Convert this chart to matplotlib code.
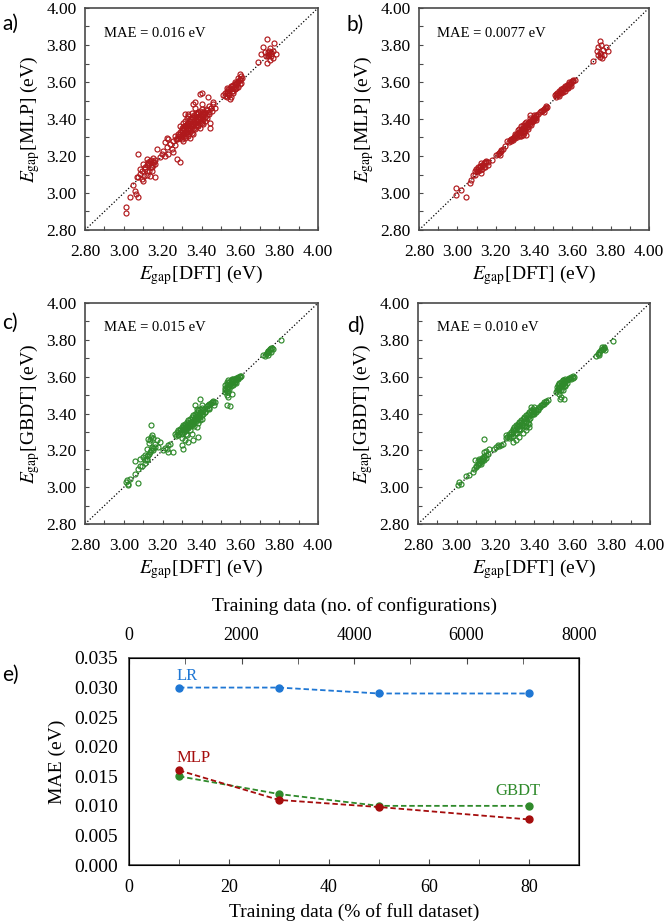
import matplotlib
matplotlib.use('Agg')
import matplotlib.pyplot as plt
from matplotlib.ticker import MultipleLocator, FormatStrFormatter

plt.rcParams['font.family'] = ['Liberation Serif', 'DejaVu Serif']
plt.rcParams['mathtext.fontset'] = 'stix'

# ---- scatter data (DFT gap, predicted gap) ----
pts_a = [(3.011, 2.926), (3.011, 2.892), (3.032, 2.977), (3.074, 2.980), (3.062, 2.995),
         (3.057, 3.013), (3.049, 3.045), (3.074, 3.088), (3.100, 3.066), (3.074, 3.210),
         (3.117, 3.183), (3.134, 3.174), (3.152, 3.188), (3.126, 3.156), (3.100, 3.156),
         (3.109, 3.138), (3.143, 3.142), (3.160, 3.156), (3.092, 3.120), (3.117, 3.117),
         (3.143, 3.120), (3.083, 3.102), (3.105, 3.093), (3.134, 3.093), (3.160, 3.084),
         (3.066, 3.088), (3.126, 3.170), (3.157, 3.170), (3.095, 3.075), (3.083, 3.129),
         (3.11, 3.13), (3.12, 3.15), (3.13, 3.16), (3.14, 3.14), (3.15, 3.17),
         (3.13, 3.12), (3.12, 3.10), (3.14, 3.18), (3.15, 3.15), (3.16, 3.18),
         (3.169, 3.237), (3.195, 3.210), (3.212, 3.201), (3.203, 3.228), (3.220, 3.246),
         (3.212, 3.273), (3.229, 3.291), (3.220, 3.300), (3.237, 3.264), (3.246, 3.237),
         (3.255, 3.219), (3.263, 3.260), (3.272, 3.183), (3.289, 3.165), (3.229, 3.210),
         (3.186, 3.192),
         (3.263, 3.309), (3.277, 3.321), (3.289, 3.332), (3.297, 3.339), (3.306, 3.350),
         (3.315, 3.363), (3.323, 3.372), (3.332, 3.381), (3.340, 3.390), (3.349, 3.399),
         (3.357, 3.408), (3.366, 3.417), (3.375, 3.425), (3.383, 3.434), (3.392, 3.443),
         (3.400, 3.452), (3.409, 3.440), (3.280, 3.300), (3.297, 3.309), (3.306, 3.321),
         (3.315, 3.327), (3.323, 3.332), (3.332, 3.345), (3.340, 3.354), (3.349, 3.363),
         (3.357, 3.372), (3.366, 3.381), (3.375, 3.390), (3.383, 3.399), (3.392, 3.408),
         (3.400, 3.417), (3.409, 3.425), (3.417, 3.434), (3.315, 3.390), (3.323, 3.408),
         (3.306, 3.381), (3.289, 3.363), (3.332, 3.417), (3.349, 3.434), (3.366, 3.461),
         (3.357, 3.479), (3.366, 3.494), (3.332, 3.429), (3.315, 3.425), (3.392, 3.537),
         (3.404, 3.540), (3.435, 3.519), (3.460, 3.494), (3.448, 3.461), (3.469, 3.458),
         (3.455, 3.443), (3.438, 3.425), (3.443, 3.381), (3.445, 3.354), (3.417, 3.390),
         (3.426, 3.408), (3.400, 3.381), (3.383, 3.363), (3.366, 3.345), (3.349, 3.327),
         (3.332, 3.309), (3.315, 3.296), (3.306, 3.282), (3.340, 3.296), (3.357, 3.318),
         (3.392, 3.354), (3.409, 3.372), (3.297, 3.291), (3.272, 3.291), (3.255, 3.282),
         (3.400, 3.479), (3.421, 3.452),
         (3.27, 3.29), (3.28, 3.31), (3.29, 3.30), (3.29, 3.32), (3.30, 3.31),
         (3.30, 3.33), (3.30, 3.35), (3.31, 3.32), (3.31, 3.34), (3.31, 3.36),
         (3.32, 3.31), (3.32, 3.33), (3.32, 3.35), (3.32, 3.37), (3.33, 3.32),
         (3.33, 3.34), (3.33, 3.36), (3.33, 3.38), (3.34, 3.33), (3.34, 3.35),
         (3.34, 3.37), (3.34, 3.40), (3.35, 3.34), (3.35, 3.36), (3.35, 3.38),
         (3.35, 3.41), (3.36, 3.35), (3.36, 3.37), (3.36, 3.39), (3.36, 3.42),
         (3.37, 3.36), (3.37, 3.38), (3.37, 3.40), (3.37, 3.43), (3.38, 3.37),
         (3.38, 3.39), (3.38, 3.41), (3.38, 3.44), (3.39, 3.38), (3.39, 3.40),
         (3.39, 3.42), (3.40, 3.39), (3.40, 3.41), (3.40, 3.43), (3.41, 3.40),
         (3.41, 3.42), (3.42, 3.41), (3.42, 3.44), (3.43, 3.42), (3.43, 3.45),
         (3.44, 3.44), (3.44, 3.47), (3.45, 3.46), (3.46, 3.48),
         (3.512, 3.530), (3.520, 3.542), (3.529, 3.551), (3.538, 3.560), (3.546, 3.569),
         (3.555, 3.576), (3.563, 3.583), (3.572, 3.591), (3.580, 3.596), (3.589, 3.605),
         (3.598, 3.614), (3.603, 3.632), (3.598, 3.645), (3.520, 3.524), (3.538, 3.537),
         (3.555, 3.551), (3.572, 3.560), (3.589, 3.573), (3.546, 3.506), (3.551, 3.519),
         (3.563, 3.542), (3.580, 3.569), (3.606, 3.596), (3.529, 3.566),
         (3.53, 3.54), (3.54, 3.55), (3.55, 3.56), (3.56, 3.57), (3.57, 3.58),
         (3.58, 3.59), (3.59, 3.60), (3.60, 3.61), (3.54, 3.53), (3.56, 3.55),
         (3.58, 3.57), (3.60, 3.59), (3.55, 3.58), (3.57, 3.60), (3.59, 3.62),
         (3.53, 3.52), (3.61, 3.62),
         (3.735, 3.830), (3.773, 3.810), (3.718, 3.790), (3.752, 3.785), (3.726, 3.760),
         (3.760, 3.763), (3.786, 3.750), (3.740, 3.740), (3.709, 3.752), (3.770, 3.730),
         (3.735, 3.704), (3.752, 3.720), (3.692, 3.710), (3.750, 3.750), (3.745, 3.745),
         (3.74, 3.76), (3.76, 3.75), (3.75, 3.77), (3.73, 3.74), (3.77, 3.77), (3.76, 3.74)]

pts_b = [(2.995, 3.027), (2.995, 2.991), (3.021, 3.018), (3.047, 2.980), (3.064, 3.054),
         (3.073, 3.072), (3.082, 3.099), (3.090, 3.117), (3.099, 3.132), (3.108, 3.139),
         (3.117, 3.144), (3.125, 3.108), (3.134, 3.153), (3.143, 3.168), (3.151, 3.175),
         (3.160, 3.153), (3.108, 3.117), (3.125, 3.162), (3.143, 3.139), (3.181, 3.180),
         (3.10, 3.12), (3.11, 3.13), (3.12, 3.14), (3.13, 3.15), (3.14, 3.16),
         (3.15, 3.165), (3.12, 3.125), (3.14, 3.14), (3.16, 3.17), (3.13, 3.13), (3.09, 3.10),
         (3.203, 3.207), (3.216, 3.216), (3.230, 3.225), (3.221, 3.207), (3.261, 3.279),
         (3.21, 3.21), (3.22, 3.22), (3.23, 3.23), (3.24, 3.24), (3.25, 3.255),
         (3.273, 3.286), (3.285, 3.294), (3.296, 3.305), (3.308, 3.315), (3.317, 3.323),
         (3.325, 3.330), (3.334, 3.341), (3.343, 3.348), (3.351, 3.357), (3.360, 3.366),
         (3.369, 3.377), (3.377, 3.384), (3.386, 3.391), (3.395, 3.400), (3.403, 3.405),
         (3.412, 3.414), (3.334, 3.324), (3.351, 3.337), (3.369, 3.355), (3.386, 3.369),
         (3.325, 3.306), (3.343, 3.315), (3.317, 3.342), (3.334, 3.360), (3.351, 3.378),
         (3.377, 3.420), (3.395, 3.387), (3.412, 3.396), (3.360, 3.312),
         (3.27, 3.275), (3.28, 3.29), (3.29, 3.30), (3.30, 3.31), (3.31, 3.32),
         (3.32, 3.33), (3.33, 3.34), (3.34, 3.35), (3.35, 3.36), (3.36, 3.37),
         (3.37, 3.38), (3.38, 3.39), (3.39, 3.40), (3.40, 3.41), (3.41, 3.42),
         (3.28, 3.28), (3.29, 3.285), (3.30, 3.295), (3.31, 3.305), (3.32, 3.315),
         (3.33, 3.325), (3.34, 3.33), (3.35, 3.34), (3.36, 3.35), (3.37, 3.36),
         (3.38, 3.375), (3.39, 3.385), (3.40, 3.395), (3.41, 3.405), (3.30, 3.32),
         (3.32, 3.345), (3.34, 3.365), (3.36, 3.385), (3.38, 3.405), (3.40, 3.42),
         (3.33, 3.31), (3.35, 3.325), (3.37, 3.345),
         (3.421, 3.427), (3.435, 3.441), (3.447, 3.450), (3.459, 3.459), (3.470, 3.467),
         (3.452, 3.438), (3.43, 3.44), (3.44, 3.445), (3.45, 3.455), (3.46, 3.46), (3.465, 3.47),
         (3.511, 3.528), (3.522, 3.539), (3.532, 3.550), (3.543, 3.559), (3.553, 3.568),
         (3.563, 3.575), (3.574, 3.582), (3.584, 3.589), (3.595, 3.596), (3.605, 3.604),
         (3.612, 3.611), (3.522, 3.528), (3.543, 3.541), (3.560, 3.553), (3.577, 3.568),
         (3.595, 3.580), (3.516, 3.535),
         (3.515, 3.52), (3.525, 3.53), (3.535, 3.545), (3.545, 3.55), (3.555, 3.56),
         (3.565, 3.57), (3.575, 3.58), (3.585, 3.59), (3.595, 3.60), (3.605, 3.61),
         (3.53, 3.525), (3.55, 3.545), (3.57, 3.565), (3.59, 3.585), (3.54, 3.56),
         (3.56, 3.58), (3.58, 3.60), (3.60, 3.605),
         (3.708, 3.715), (3.743, 3.823), (3.734, 3.787), (3.748, 3.802), (3.760, 3.775),
         (3.777, 3.787), (3.786, 3.769), (3.730, 3.766), (3.743, 3.757), (3.751, 3.744),
         (3.765, 3.748), (3.743, 3.733), (3.755, 3.730), (3.734, 3.748)]

pts_c = [(3.014, 3.037), (3.023, 3.019), (3.011, 3.028), (3.032, 3.046), (3.020, 3.010),
         (3.071, 3.024), (3.057, 3.073), (3.074, 3.100), (3.083, 3.117), (3.092, 3.114),
         (3.057, 3.142), (3.083, 3.155), (3.100, 3.164), (3.109, 3.177), (3.117, 3.155),
         (3.126, 3.173), (3.134, 3.191), (3.117, 3.209), (3.143, 3.218), (3.152, 3.200),
         (3.160, 3.218), (3.134, 3.254), (3.126, 3.263), (3.152, 3.267), (3.169, 3.254),
         (3.143, 3.281), (3.140, 3.336), (3.160, 3.236), (3.186, 3.245), (3.109, 3.146),
         (3.177, 3.218), (3.12, 3.17), (3.13, 3.18), (3.14, 3.20), (3.15, 3.21),
         (3.13, 3.24), (3.14, 3.27), (3.11, 3.13), (3.12, 3.15),
         (3.203, 3.200), (3.220, 3.209), (3.229, 3.227), (3.237, 3.236), (3.255, 3.191),
         (3.225, 3.191), (3.212, 3.213),
         (3.263, 3.290), (3.272, 3.299), (3.280, 3.308), (3.289, 3.317), (3.297, 3.326),
         (3.306, 3.335), (3.315, 3.344), (3.323, 3.353), (3.332, 3.362), (3.340, 3.371),
         (3.349, 3.381), (3.357, 3.390), (3.366, 3.399), (3.375, 3.408), (3.383, 3.417),
         (3.392, 3.422), (3.400, 3.430), (3.280, 3.281), (3.297, 3.296), (3.315, 3.314),
         (3.332, 3.326), (3.349, 3.344), (3.366, 3.362), (3.383, 3.381), (3.306, 3.308),
         (3.323, 3.326), (3.340, 3.339), (3.357, 3.357), (3.375, 3.375), (3.297, 3.267),
         (3.315, 3.254), (3.301, 3.227), (3.306, 3.205), (3.332, 3.245), (3.357, 3.254),
         (3.383, 3.272), (3.349, 3.290), (3.375, 3.326), (3.392, 3.362), (3.409, 3.399),
         (3.366, 3.444), (3.375, 3.426), (3.392, 3.477), (3.400, 3.444), (3.417, 3.408),
         (3.426, 3.426), (3.435, 3.444), (3.443, 3.453), (3.452, 3.462), (3.460, 3.466),
         (3.469, 3.462), (3.438, 3.426), (3.466, 3.444), (3.323, 3.281),
         (3.27, 3.28), (3.28, 3.29), (3.29, 3.30), (3.30, 3.31), (3.31, 3.32),
         (3.32, 3.33), (3.33, 3.34), (3.34, 3.35), (3.35, 3.36), (3.36, 3.37),
         (3.37, 3.38), (3.38, 3.39), (3.39, 3.40), (3.40, 3.41), (3.41, 3.42),
         (3.42, 3.43), (3.43, 3.44), (3.44, 3.45), (3.45, 3.455), (3.46, 3.46),
         (3.29, 3.31), (3.31, 3.33), (3.33, 3.35), (3.35, 3.37), (3.37, 3.39),
         (3.39, 3.41), (3.30, 3.29), (3.32, 3.31), (3.34, 3.33), (3.36, 3.35),
         (3.38, 3.37), (3.40, 3.39), (3.42, 3.41), (3.44, 3.43), (3.31, 3.30),
         (3.33, 3.32), (3.35, 3.34), (3.37, 3.36), (3.39, 3.38), (3.36, 3.33),
         (3.34, 3.31), (3.32, 3.29), (3.38, 3.35), (3.40, 3.37),
         (3.520, 3.517), (3.529, 3.535), (3.538, 3.544), (3.546, 3.562), (3.555, 3.571),
         (3.563, 3.580), (3.572, 3.589), (3.580, 3.593), (3.589, 3.598), (3.598, 3.604),
         (3.606, 3.602), (3.520, 3.553), (3.529, 3.571), (3.538, 3.580), (3.555, 3.589),
         (3.572, 3.571), (3.529, 3.499), (3.538, 3.490), (3.555, 3.508), (3.534, 3.517),
         (3.529, 3.444), (3.546, 3.440), (3.563, 3.553), (3.580, 3.568),
         (3.52, 3.53), (3.53, 3.545), (3.54, 3.555), (3.55, 3.565), (3.56, 3.575),
         (3.57, 3.58), (3.58, 3.59), (3.59, 3.595), (3.60, 3.60), (3.53, 3.56),
         (3.54, 3.57), (3.55, 3.58), (3.56, 3.59), (3.52, 3.54), (3.53, 3.52),
         (3.54, 3.535), (3.55, 3.55), (3.56, 3.56), (3.57, 3.57), (3.58, 3.58), (3.59, 3.585),
         (3.726, 3.712), (3.735, 3.730), (3.743, 3.737), (3.752, 3.748), (3.760, 3.755),
         (3.769, 3.748), (3.740, 3.719), (3.757, 3.734), (3.809, 3.797), (3.718, 3.719),
         (3.73, 3.725), (3.745, 3.74), (3.755, 3.75), (3.765, 3.755), (3.75, 3.735)]

pts_d = [(3.005, 3.010), (3.014, 3.028), (3.022, 3.019), (3.048, 3.060), (3.066, 3.066),
         (3.083, 3.084), (3.091, 3.098), (3.100, 3.113), (3.109, 3.126), (3.117, 3.131),
         (3.126, 3.146), (3.134, 3.155), (3.143, 3.164), (3.152, 3.177), (3.097, 3.146),
         (3.117, 3.155), (3.143, 3.191), (3.152, 3.195), (3.126, 3.126), (3.143, 3.260),
         (3.169, 3.205), (3.160, 3.182),
         (3.10, 3.11), (3.11, 3.12), (3.12, 3.13), (3.13, 3.14), (3.14, 3.15),
         (3.15, 3.16), (3.12, 3.15), (3.13, 3.16), (3.14, 3.17), (3.11, 3.14),
         (3.203, 3.218), (3.212, 3.227), (3.221, 3.224), (3.229, 3.231), (3.241, 3.236),
         (3.255, 3.267), (3.195, 3.209),
         (3.255, 3.281), (3.269, 3.290), (3.281, 3.299), (3.290, 3.314), (3.298, 3.326),
         (3.307, 3.335), (3.316, 3.344), (3.324, 3.353), (3.333, 3.362), (3.341, 3.372),
         (3.350, 3.381), (3.359, 3.390), (3.367, 3.399), (3.376, 3.408), (3.384, 3.417),
         (3.393, 3.426), (3.402, 3.435), (3.272, 3.267), (3.290, 3.278), (3.307, 3.296),
         (3.324, 3.317), (3.341, 3.335), (3.359, 3.353), (3.376, 3.372), (3.393, 3.399),
         (3.290, 3.245), (3.307, 3.254), (3.324, 3.272), (3.341, 3.296), (3.359, 3.326),
         (3.376, 3.344), (3.384, 3.435), (3.393, 3.408), (3.402, 3.412), (3.410, 3.408),
         (3.419, 3.417), (3.428, 3.435), (3.436, 3.444), (3.445, 3.453), (3.453, 3.462),
         (3.462, 3.466), (3.471, 3.471), (3.376, 3.326), (3.359, 3.308),
         (3.26, 3.27), (3.27, 3.28), (3.28, 3.29), (3.29, 3.30), (3.30, 3.31),
         (3.31, 3.32), (3.32, 3.33), (3.33, 3.34), (3.34, 3.35), (3.35, 3.36),
         (3.36, 3.37), (3.37, 3.38), (3.38, 3.39), (3.39, 3.40), (3.40, 3.41),
         (3.41, 3.42), (3.42, 3.425), (3.43, 3.435), (3.44, 3.445), (3.45, 3.45),
         (3.46, 3.46), (3.28, 3.275), (3.30, 3.295), (3.32, 3.315), (3.34, 3.335),
         (3.36, 3.355), (3.38, 3.375), (3.40, 3.395), (3.29, 3.31), (3.31, 3.33),
         (3.33, 3.355), (3.35, 3.375), (3.37, 3.395), (3.39, 3.415), (3.31, 3.295),
         (3.33, 3.31), (3.35, 3.33), (3.37, 3.35), (3.36, 3.33),
         (3.514, 3.517), (3.522, 3.531), (3.531, 3.544), (3.540, 3.557), (3.548, 3.567),
         (3.557, 3.575), (3.566, 3.582), (3.574, 3.589), (3.583, 3.595), (3.591, 3.598),
         (3.600, 3.602), (3.609, 3.598), (3.522, 3.553), (3.531, 3.567), (3.548, 3.580),
         (3.528, 3.508), (3.540, 3.490), (3.557, 3.477), (3.535, 3.477), (3.548, 3.526),
         (3.562, 3.551),
         (3.52, 3.53), (3.53, 3.54), (3.54, 3.55), (3.55, 3.56), (3.56, 3.57),
         (3.57, 3.58), (3.58, 3.585), (3.59, 3.59), (3.60, 3.595), (3.52, 3.545),
         (3.53, 3.56), (3.54, 3.57), (3.55, 3.58), (3.56, 3.585), (3.53, 3.52),
         (3.54, 3.53), (3.55, 3.545), (3.56, 3.555), (3.57, 3.565),
         (3.721, 3.712), (3.729, 3.725), (3.738, 3.734), (3.747, 3.743), (3.755, 3.752),
         (3.764, 3.761), (3.769, 3.743), (3.734, 3.716), (3.810, 3.795),
         (3.735, 3.73), (3.745, 3.745), (3.755, 3.75), (3.76, 3.755), (3.75, 3.76)]

# ---- learning curve data ----
train_pct = [10, 30, 50, 80]
mae_lr = [0.030, 0.030, 0.029, 0.029]
mae_mlp = [0.016, 0.011, 0.0098, 0.0077]
mae_gbdt = [0.015, 0.012, 0.010, 0.010]

red = '#b0191c'
green = '#2f8a2b'
blue = '#1f77d4'
dark_red = '#a50d0d'
spine_col = '#4a4a4a'

fig = plt.figure(figsize=(6.66, 9.23), dpi=100)


def px(l, t, w, h):
    return [l / 666, 1 - (t + h) / 923, w / 666, h / 923]


def scatter_panel(rect, pts, col, ylab, mae):
    ax = fig.add_axes(px(*rect))
    xs = [p[0] for p in pts]
    ys = [p[1] for p in pts]
    ax.plot([2.8, 4.0], [2.8, 4.0], ls=':', color='k', lw=0.9, zorder=1)
    ax.plot(xs, ys, 'o', mfc='none', mec=col, ms=3.6, mew=0.85, zorder=2)
    ax.set_xlim(2.8, 4.0)
    ax.set_ylim(2.8, 4.0)
    for a in (ax.xaxis, ax.yaxis):
        a.set_major_locator(MultipleLocator(0.2))
        a.set_minor_locator(MultipleLocator(0.1))
        a.set_major_formatter(FormatStrFormatter('%.2f'))
    ax.tick_params(which='both', direction='in', length=3, width=0.8,
                   color=spine_col, labelsize=12.5)
    ax.tick_params(axis='x', pad=10)
    ax.tick_params(axis='y', pad=6)
    for s in ax.spines.values():
        s.set_color(spine_col)
        s.set_linewidth(1.2)
    ax.set_xlabel(r'$E_{\mathrm{gap}}$[DFT] (eV)', fontsize=14, labelpad=2)
    ax.set_ylabel(r'$E_{\mathrm{gap}}$[' + ylab + '] (eV)', fontsize=14, labelpad=3)
    ax.text(0.08, 0.887, 'MAE = ' + mae + ' eV', transform=ax.transAxes,
            fontsize=10.5, va='center', ha='left')
    return ax


scatter_panel((85, 8, 233, 222), pts_a, red, 'MLP', '0.016')
scatter_panel((419, 8, 230, 222), pts_b, red, 'MLP', '0.0077')
scatter_panel((85, 303, 233, 221), pts_c, green, 'GBDT', '0.015')
scatter_panel((418, 303, 232, 221), pts_d, green, 'GBDT', '0.010')

# ---- panel e ----
ax = fig.add_axes(px(129, 658, 450, 207))
ax.plot(train_pct, mae_lr, '--o', color=blue, lw=1.3, ms=5, dashes=(3, 1.6))
ax.plot(train_pct, mae_gbdt, '--o', color=green, lw=1.3, ms=5, dashes=(3, 1.6))
ax.plot(train_pct, mae_mlp, '--o', color=dark_red, lw=1.3, ms=5, dashes=(3, 1.6))
ax.set_xlim(0, 90)
ax.set_ylim(0, 0.035)
ax.xaxis.set_major_locator(MultipleLocator(20))
ax.xaxis.set_minor_locator(MultipleLocator(10))
ax.yaxis.set_major_locator(MultipleLocator(0.005))
ax.yaxis.set_major_formatter(FormatStrFormatter('%.3f'))
ax.tick_params(axis='x', which='both', direction='in', length=4, color=spine_col,
               labelsize=13, pad=10)
ax.tick_params(axis='y', which='both', length=0, labelsize=14, pad=8)
for s in ax.spines.values():
    s.set_color(spine_col)
    s.set_linewidth(1.2)
ax.set_xlabel('Training data (% of full dataset)', fontsize=14, labelpad=5)
ax.set_ylabel('MAE (eV)', fontsize=14, labelpad=6)
ax.text(9.6, 0.032, 'LR', color=blue, fontsize=12, va='center')
ax.text(9.6, 0.0181, 'MLP', color=dark_red, fontsize=12, va='center')
ax.text(73.2, 0.0125, 'GBDT', color=green, fontsize=12, va='center')

axt = ax.twiny()
axt.set_xlim(0, 8000)
axt.xaxis.set_major_locator(MultipleLocator(2000))
axt.xaxis.set_minor_locator(MultipleLocator(1000))
axt.tick_params(which='both', direction='in', length=4, color=spine_col,
                labelsize=13, pad=10)
axt.set_xlabel('Training data (no. of configurations)', fontsize=14, labelpad=12)

# panel letters
for lab, x, y in [('a)', 2, 24), ('b)', 347, 25), ('c)', 2, 323), ('d)', 347, 326), ('e)', 2, 675)]:
    fig.text(x / 666, 1 - y / 923, lab, fontsize=15, family='Lato', va='center', ha='left')

fig.savefig('out.png', dpi=100)
